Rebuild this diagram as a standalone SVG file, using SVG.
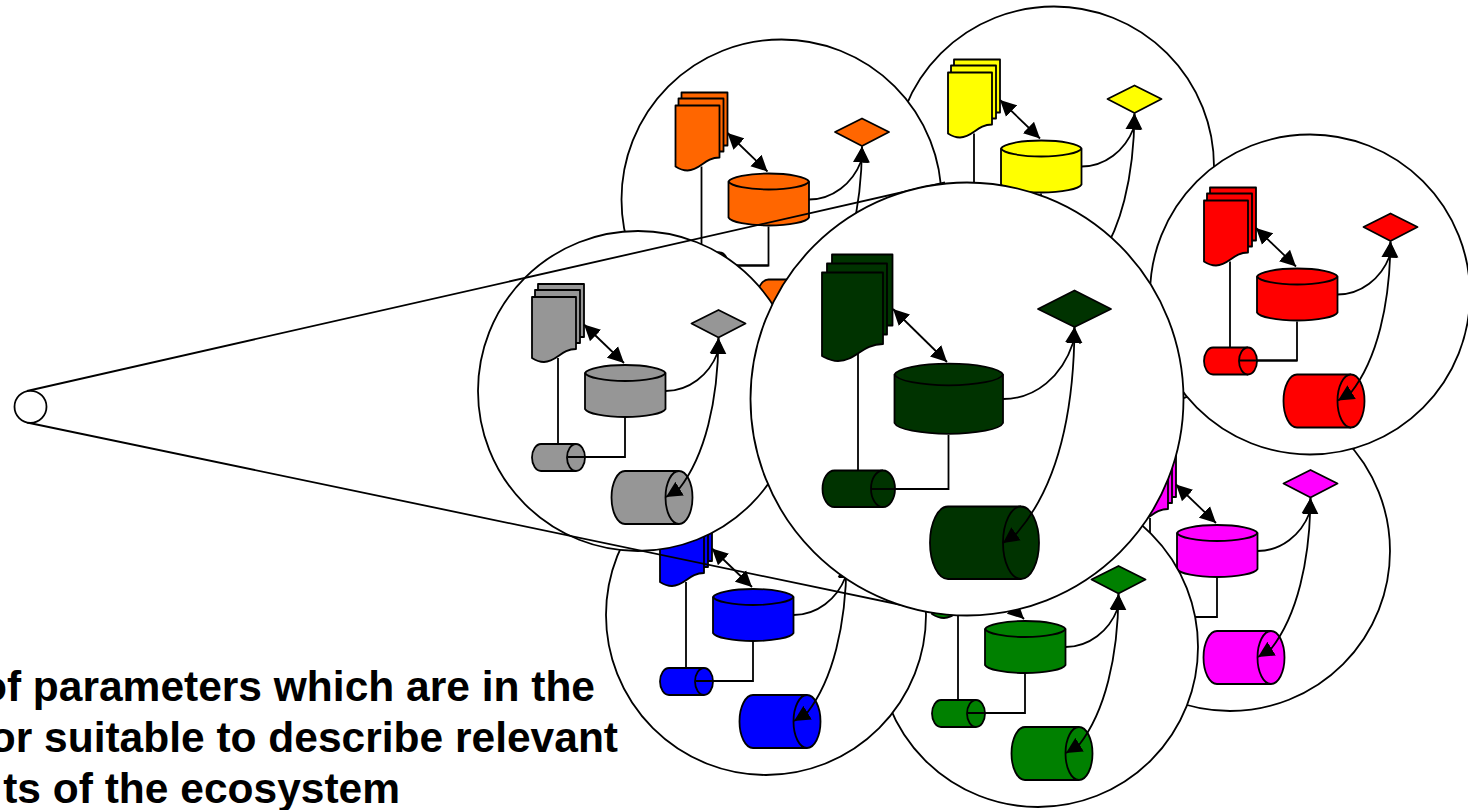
<svg xmlns="http://www.w3.org/2000/svg" xmlns:xlink="http://www.w3.org/1999/xlink" width="1468" height="810" viewBox="0 0 1468 810">
<style>
.s{stroke:#000;stroke-width:1.8;stroke-linejoin:round}
.f{fill:currentColor}
.c{fill:#fff;stroke:#000;stroke-width:1.8}
.l{fill:none;stroke:#000;stroke-width:1.8}
.h{marker-end:url(#a)}
.d{marker-start:url(#a);marker-end:url(#a)}
.t{font-family:"Liberation Sans",Arial,sans-serif;font-weight:700;font-size:42.500px;fill:#000;text-anchor:end}
</style>
<defs>
<marker id="a" markerUnits="userSpaceOnUse" markerWidth="17" markerHeight="17" viewBox="0 0 17 17" refX="16" refY="8.500" orient="auto-start-reverse"><path d="M0 0.500L16 8.500L0 16.500Z" fill="#000"/></marker>
<g id="module">
<circle class="c" cx="-1" cy="0" r="160"/>
<path class="l" d="M-81 -33V53"/>
<path class="l" d="M-14 27V66H-71"/>
<rect class="s f" x="-101" y="-107" width="46" height="53"/>
<rect class="s f" x="-104" y="-101" width="45" height="53"/>
<path class="s f" d="M-107 -94H-63V-42C-78 -42 -82 -29 -95 -29C-100 -29 -104 -31 -107 -33Z"/>
<path class="s f" d="M-54 -18A40.500 9 0 0 1 26.500 -18V18A40.500 9 0 0 1 -54 18Z"/>
<path class="l" d="M-54 -18A40.500 9 0 0 0 26.500 -18"/>
<path class="s f" d="M52.500 -67.500L79.500 -81L106.500 -67.500L79.500 -53.500Z"/>
<path class="s f" d="M-98 53H-63A9 13.500 0 0 1 -63 80H-98A9 13.500 0 0 1 -98 53Z"/>
<path class="s f" d="M-63 53A9 13.500 0 0 0 -63 80"/>
<path class="l" d="M-71 66H-14"/>
<path class="s f" d="M-14 80H40A13.500 26.500 0 0 1 40 133H-14A13.500 26.500 0 0 1 -14 80Z"/>
<path class="s f" d="M40 80A13.500 26.500 0 0 0 40 133"/>
<path class="l d" d="M-55 -66.500L-15 -28"/>
<path class="l h" d="M26.500 0C50 0 70 -16 78.500 -38L79.500 -53"/>
<path class="l d" d="M79.500 -53C79 10 66 65 40 98L27 106"/>
</g>
</defs>

<g id="node-yellow" style="color:#ffff00"><use href="#module" xlink:href="#module" x="1055" y="166.500"/></g>
<g id="node-orange" style="color:#ff6600"><use href="#module" xlink:href="#module" x="782.500" y="199.500"/></g>
<g id="node-magenta" style="color:#ff00ff"><use href="#module" xlink:href="#module" x="1231" y="551"/></g>
<g id="node-red" style="color:#ff0000"><use href="#module" xlink:href="#module" x="1311" y="294.500"/></g>
<g id="node-green" style="color:#008000"><use href="#module" xlink:href="#module" x="1039" y="647"/></g>
<g id="node-blue" style="color:#0000ff"><use href="#module" xlink:href="#module" x="767" y="615"/></g>
<g id="node-gray" style="color:#969696"><use href="#module" xlink:href="#module" x="639" y="391"/></g>

<g id="connectors">
<path class="l" d="M27 391L945 182.500"/>
<path class="l" d="M27 422.500L935 612"/>
</g>

<g id="node-small"><circle class="c" cx="30.500" cy="406.800" r="16"/></g>

<g id="node-dark" style="color:#003300">
<circle class="c" cx="967" cy="399" r="216.500"/>
<path class="l" d="M858 352V470.500"/>
<path class="l" d="M948.500 435V489H871"/>
<rect class="s f" x="832" y="254.500" width="60.500" height="71"/>
<rect class="s f" x="827" y="263.500" width="60" height="71"/>
<path class="s f" d="M822 272.500H883V344C862 344 856 361 838 361C831 361 826 358 822 356Z"/>
<path class="s f" d="M894.500 374.500A54.500 12 0 0 1 1003 374.500V423A54.500 12 0 0 1 894.500 423Z"/>
<path class="l" d="M894.500 374.500A54.500 12 0 0 0 1003 374.500"/>
<path class="s f" d="M1038 309L1074.500 290.500L1111 309L1074.500 327Z"/>
<path class="s f" d="M834.500 470.500H883A12 18.250 0 0 1 883 507H834.500A12 18.250 0 0 1 834.500 470.500Z"/>
<path class="s f" d="M883 470.500A12 18.250 0 0 0 883 507"/>
<path class="l" d="M871 489H895"/>
<path class="s f" d="M948 506.500H1021A18 36.250 0 0 1 1021 579H948A18 36.250 0 0 1 948 506.500Z"/>
<path class="s f" d="M1021 506.500A18 36.250 0 0 0 1021 579"/>
<path class="l d" d="M893 309L947 362"/>
<path class="l h" d="M1003 399C1036 399 1062 376 1073 343L1074.500 327"/>
<path class="l d" d="M1074.500 327C1074 420 1054 490 1017 533L1003 543"/>
</g>

<g id="caption">
<text class="t" x="595" y="700.500">of parameters which are in the</text>
<text class="t" x="618" y="751.500">or suitable to describe relevant</text>
<text class="t" x="400" y="802.500">ts of the ecosystem</text>
</g>
</svg>
